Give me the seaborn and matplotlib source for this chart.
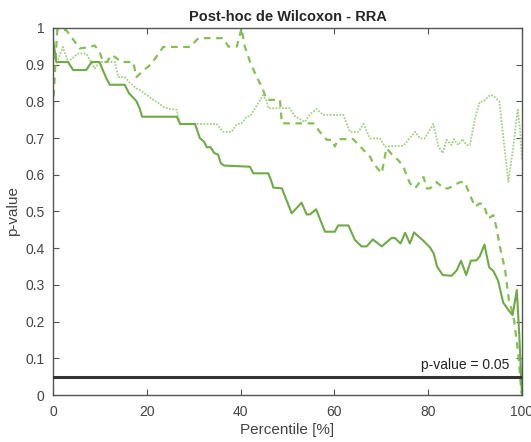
import numpy as np
import pandas as pd
import seaborn as sns
import matplotlib
matplotlib.use("Agg")
import matplotlib.pyplot as plt

# solid series
solid_x = [0, 0.7, 3.2, 4.3, 7.1, 8.2, 9.9, 11.4, 12.1, 15.3, 16.2, 17.1, 17.8, 18.5, 19.0,
           26.4, 27.1, 30.3, 31.3, 32.2, 32.8, 33.6, 34.4, 35.2, 35.8, 36.5, 42.0, 42.7, 45.9,
           46.5, 47.0, 48.8, 50.9, 53.0, 54.1, 54.8, 56.1, 58.0, 60.1, 60.8, 63.0, 64.4, 65.8,
           66.9, 68.2, 70.1, 72.2, 72.9, 74.1, 75.1, 76.1, 77.0, 79.0, 80.4, 81.2, 81.9, 83.1,
           85.0, 86.1, 87.0, 88.1, 89.1, 90.3, 91.0, 92.0, 93.0, 93.9, 94.9, 96.0, 97.2, 98.0,
           98.9, 99.4, 100]
solid_y = [0.97, 0.907, 0.907, 0.885, 0.885, 0.907, 0.907, 0.862, 0.845, 0.845, 0.822, 0.81, 0.80, 0.78, 0.758,
           0.758, 0.738, 0.738, 0.700, 0.69, 0.675, 0.675, 0.659, 0.655, 0.631, 0.625, 0.622, 0.604, 0.604,
           0.585, 0.565, 0.563, 0.495, 0.524, 0.492, 0.492, 0.506, 0.445, 0.445, 0.462, 0.462, 0.422, 0.405,
           0.405, 0.424, 0.405, 0.428, 0.428, 0.413, 0.442, 0.413, 0.443, 0.42, 0.402, 0.385, 0.35, 0.327,
           0.325, 0.34, 0.366, 0.327, 0.366, 0.367, 0.378, 0.41, 0.348, 0.338, 0.312, 0.252, 0.23, 0.218,
           0.286, 0.17, 0.0]

# dashed series
dashed_x = [0, 0.9, 2.8, 4.2, 5.7, 6.8, 7.8, 8.9, 9.9, 10.7, 11.5, 12.4, 13.3, 14.6, 17.1, 17.8,
            19.3, 21.0, 23.5, 29.2, 31.0, 36.3, 37.4, 39.2, 40.2, 40.9, 42.0, 43.4, 44.5, 45.6,
            48.4, 48.8, 55.5, 56.9, 58.4, 59.5, 60.1, 60.8, 64.0, 65.5, 67.6, 68.3, 70.1, 71.1,
            72.3, 73.6, 74.7, 76.1, 77.2, 79.0, 79.7, 80.4, 81.8, 83.3, 84.3, 86.8, 87.8, 88.9,
            90.0, 91.0, 91.8, 92.8, 93.9, 94.6, 95.3, 96.4, 97.2, 97.8, 98.3, 99.2, 99.9]
dashed_y = [0.78, 0.994, 0.994, 0.97, 0.944, 0.946, 0.948, 0.952, 0.935, 0.907, 0.907, 0.926, 0.92, 0.907, 0.907, 0.866,
            0.884, 0.902, 0.948, 0.948, 0.972, 0.972, 0.949, 0.949, 0.999, 0.949, 0.908, 0.867, 0.84, 0.804,
            0.804, 0.740, 0.740, 0.717, 0.695, 0.695, 0.677, 0.697, 0.697, 0.677, 0.649, 0.631, 0.604, 0.672,
            0.655, 0.640, 0.622, 0.577, 0.563, 0.594, 0.563, 0.563, 0.58, 0.563, 0.563, 0.58, 0.58, 0.545,
            0.513, 0.522, 0.52, 0.481, 0.49, 0.454, 0.404, 0.341, 0.259, 0.232, 0.205, 0.114, 0.005]

# dotted series
dotted_x = [0, 0.8, 2.1, 3.2, 5.3, 7.1, 8.9, 9.9, 13.2, 13.9, 15.3, 16.4, 17.8, 18.6, 20.0, 21.4,
            22.5, 23.5, 24.9, 26.4, 27.1, 34.9, 36.3, 38.1, 39.2, 40.2, 41.3, 42.0, 43.1, 44.8,
            45.6, 45.9, 50.5, 51.5, 53.7, 54.8, 56.2, 57.6, 61.9, 63.3, 65.1, 66.2, 67.6, 69.7,
            70.8, 74.7, 77.2, 78.3, 79.3, 81.1, 82.2, 83.1, 83.9, 85.0, 85.5, 86.4, 87.3, 88.2,
            88.9, 90.0, 91.0, 91.8, 93.2, 93.9, 95.2, 96.0, 97.1, 98.1, 99.1, 99.6, 100]
dotted_y = [0.93, 0.905, 0.948, 0.907, 0.93, 0.93, 0.889, 0.907, 0.907, 0.866, 0.866, 0.85, 0.835, 0.83, 0.817, 0.804,
            0.795, 0.785, 0.779, 0.777, 0.739, 0.738, 0.717, 0.717, 0.738, 0.74, 0.758, 0.76, 0.781, 0.817,
            0.8, 0.781, 0.781, 0.76, 0.744, 0.765, 0.779, 0.763, 0.763, 0.717, 0.717, 0.738, 0.699, 0.699,
            0.677, 0.679, 0.717, 0.699, 0.699, 0.738, 0.677, 0.659, 0.695, 0.681, 0.697, 0.681, 0.697, 0.681,
            0.681, 0.754, 0.799, 0.80, 0.817, 0.815, 0.799, 0.704, 0.581, 0.672, 0.777, 0.722, 0.64]

threshold = 0.05
x_ticks = [0, 20, 40, 60, 80, 100]
y_ticks = [0, 0.1, 0.2, 0.3, 0.4, 0.5, 0.6, 0.7, 0.8, 0.9, 1]
y_labels = ["0", "0.1", "0.2", "0.3", "0.4", "0.5", "0.6", "0.7", "0.8", "0.9", "1"]

sns.set_theme(style="white")
plt.rcParams["font.family"] = ["Liberation Sans", "DejaVu Sans"]

fig = plt.figure(figsize=(5.31, 4.42), dpi=100)
ax = fig.add_axes([0.0998, 0.106, 0.8832, 0.831])

sns.lineplot(x=dotted_x, y=dotted_y, ax=ax, sort=False, estimator=None,
             color="#a6d083", linewidth=1.3, linestyle=(0, (1, 0.8)))
sns.lineplot(x=dashed_x, y=dashed_y, ax=ax, sort=False, estimator=None,
             color="#86bf54", linewidth=1.6, linestyle=(0, (3, 2.5)))
sns.lineplot(x=solid_x, y=solid_y, ax=ax, sort=False, estimator=None,
             color="#6eab45", linewidth=1.5)
ax.axhline(threshold, color="#333333", linewidth=2.2, zorder=5)
ax.text(97.4, threshold + 0.012, "p-value = %g" % threshold, ha="right", va="bottom",
        fontsize=10, color="#222222")

ax.set_xlim(0, 100)
ax.set_ylim(0, 1)
ax.set_xticks(x_ticks)
ax.set_yticks(y_ticks)
ax.set_yticklabels(y_labels)
ax.tick_params(direction="in", length=4, width=0.8, colors="#555555",
               labelcolor="#444444", labelsize=10, top=True, right=True,
               bottom=True, left=True)
ax.tick_params(axis="x", pad=7)
ax.tick_params(axis="y", pad=6)
for s in ax.spines.values():
    s.set_color("#555555")
    s.set_linewidth(1.0)

ax.set_xlabel("Percentile [%]", fontsize=11, color="#444444", labelpad=3)
ax.set_ylabel("p-value", fontsize=11, color="#444444", labelpad=4)
ax.set_title("Post-hoc de Wilcoxon - RRA", fontsize=10.5, fontweight="bold", pad=5)

fig.savefig("out.png", dpi=100)
